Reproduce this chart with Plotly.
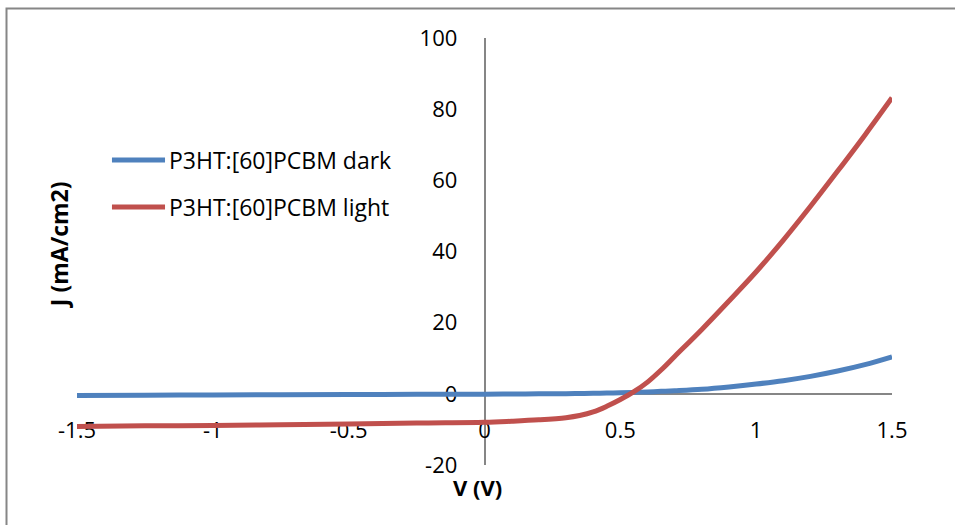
import plotly.graph_objects as go

# ---- data ----
voltage = [-1.5, -1.25, -1.0, -0.75, -0.5, -0.25, 0.0, 0.1, 0.2, 0.3, 0.35, 0.4, 0.45,
           0.5, 0.55, 0.6, 0.65, 0.7, 0.8, 0.9, 1.0, 1.1, 1.2, 1.3, 1.4, 1.5]
j_dark = [-0.5, -0.4, -0.3, -0.25, -0.2, -0.15, -0.1, -0.05, 0.0, 0.05, 0.1, 0.15, 0.2,
          0.3, 0.42, 0.55, 0.7, 0.88, 1.3, 1.95, 2.75, 3.7, 4.9, 6.4, 8.2, 10.4]
j_light = [-9.2, -9.0, -8.9, -8.7, -8.5, -8.2, -8.0, -7.7, -7.3, -6.7, -6.1, -5.1, -3.5,
           -1.6, 0.6, 3.3, 6.7, 10.5, 18.1, 26.1, 34.3, 43.2, 52.7, 62.6, 72.7, 83.2]

series_names = ["P3HT:[60]PCBM dark", "P3HT:[60]PCBM light"]
series_colors = ["#4F81BD", "#C0504D"]

x_ticks = [-1.5, -1.0, -0.5, 0.0, 0.5, 1.0, 1.5]
x_tick_labels = ["-1.5", "-1", "-0.5", "0", "0.5", "1", "1.5"]
y_ticks = [-20, 0, 20, 40, 60, 80, 100]
y_tick_labels = ["-20", "0", "20", "40", "60", "80", "100"]

x_title = "V (V)"
y_title = "J (mA/cm2)"

FONT = "Open Sans, Liberation Sans, sans-serif"

fig = go.Figure()
for name, ys, col in zip(series_names, [j_dark, j_light], series_colors):
    fig.add_trace(go.Scatter(
        x=voltage, y=ys, mode="lines", name=name,
        line=dict(color=col, width=5, shape="spline", smoothing=1.0),
        showlegend=False,
    ))

axis_common = dict(
    showgrid=False, zeroline=False, showline=True, linecolor="#868686", linewidth=1.5,
    ticks="", layer="below traces",
    tickfont=dict(family=FONT, size=22, color="#000000"),
)

fig.update_layout(
    width=955, height=525,
    paper_bgcolor="white", plot_bgcolor="white",
    margin=dict(l=77, r=63, t=38, b=60, autoexpand=False),
    xaxis=dict(range=[-1.5, 1.5], tickvals=x_ticks, ticktext=x_tick_labels,
               anchor="free", position=1/6, ticklabelstandoff=17, **axis_common),
    yaxis=dict(range=[-20, 100], tickvals=y_ticks, ticktext=y_tick_labels,
               anchor="free", position=0.5, ticklabelstandoff=22, **axis_common),
)

# outer chart border
fig.add_shape(type="rect", xref="paper", yref="paper",
              x0=-0.0865, x1=1.2, y0=-0.3, y1=1.069,
              line=dict(color="#868686", width=2), fillcolor="rgba(0,0,0,0)", layer="below")

# axis titles
fig.add_annotation(text="<b>%s</b>" % x_title, xref="paper", yref="paper",
                   x=0.492, y=-0.0515, showarrow=False, xanchor="center", yanchor="middle",
                   font=dict(family=FONT, size=22, color="#000000"))
fig.add_annotation(text="<b>%s</b>" % y_title, xref="paper", yref="paper",
                   x=-0.022, y=0.515, showarrow=False, xanchor="center", yanchor="middle",
                   textangle=-90, font=dict(family=FONT, size=23, color="#000000"))

# legend (manual, Excel-style long line samples)
legend_y = [0.7143, 0.6042]
for name, col, ly in zip(series_names, series_colors, legend_y):
    fig.add_shape(type="line", xref="paper", yref="paper", x0=0.0429, x1=0.108, y0=ly, y1=ly,
                  line=dict(color=col, width=5))
    fig.add_annotation(text=name, xref="paper", yref="paper", x=0.1105, y=ly,
                       showarrow=False, xanchor="left", yanchor="middle",
                       font=dict(family=FONT, size=23, color="#000000"))

fig.write_html("out.html", config={"displayModeBar": False},
               post_script="document.body.style.margin='0';")
